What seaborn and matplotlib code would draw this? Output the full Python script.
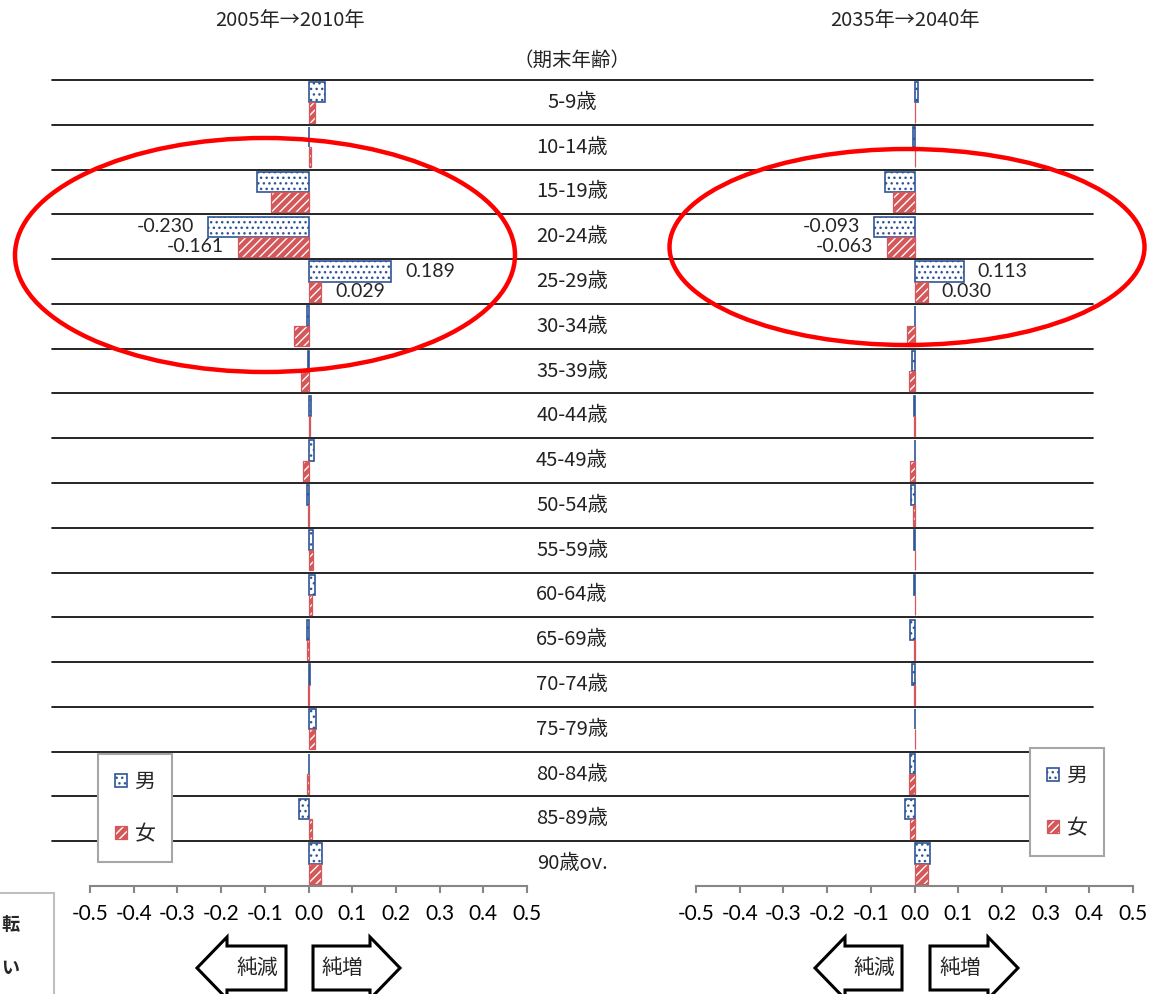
import pandas as pd
import matplotlib
matplotlib.use('Agg')
import matplotlib.pyplot as plt
import matplotlib.patches as mpatches
import matplotlib.transforms as mtransforms
from matplotlib.colors import to_rgba
from matplotlib.lines import Line2D
import seaborn as sns

# data
ages = ['5-9歳', '10-14歳', '15-19歳', '20-24歳', '25-29歳', '30-34歳',
        '35-39歳', '40-44歳', '45-49歳', '50-54歳', '55-59歳', '60-64歳',
        '65-69歳', '70-74歳', '75-79歳', '80-84歳', '85-89歳', '90歳ov.']
male_0510 = [0.038, 0.002, -0.118, -0.230, 0.189, -0.003, -0.002, 0.006, 0.013,
             -0.003, 0.011, 0.015, -0.003, 0.003, 0.017, 0.002, -0.021, 0.030]
female_0510 = [0.015, 0.005, -0.086, -0.161, 0.029, -0.033, -0.017, 0.004, -0.013,
               -0.001, 0.011, 0.009, -0.003, -0.001, 0.015, -0.004, 0.009, 0.028]
male_3540 = [0.009, -0.004, -0.067, -0.093, 0.113, 0.002, -0.006, -0.002, 0.002,
             -0.009, -0.002, -0.002, -0.010, -0.006, 0.001, -0.010, -0.021, 0.035]
female_3540 = [0.001, 0.001, -0.049, -0.063, 0.030, -0.017, -0.013, -0.001, -0.011,
               -0.003, 0.001, 0.000, -0.002, -0.002, 0.001, -0.012, -0.011, 0.030]
periods = ['2005年→2010年', '2035年→2040年']
sexes = ['男', '女']
xticks = [-0.5, -0.4, -0.3, -0.2, -0.1, 0.0, 0.1, 0.2, 0.3, 0.4, 0.5]
labelled_rows = [3, 4]

sns.set_theme(style='white')
plt.rcParams['font.family'] = ['Noto Sans CJK JP', 'DejaVu Sans']
num_font = ['Lato', 'DejaVu Sans']

W, H = 1157, 994
fig = plt.figure(figsize=(W / 100, H / 100), dpi=100)
fig.patch.set_facecolor('white')


def fx(px):
    return px / W


def fy(py):
    return 1 - py / H


blue = '#2F5597'
red = '#D4575A'
gray = '#868686'


def style_male(p):
    p.set_facecolor('white')
    p.set_edgecolor(blue)
    p.set_linewidth(1.2)
    p.set_hatch('...')


def style_female(p):
    # red fill with thin white diagonal stripes
    p.set_facecolor(red)
    p.set_edgecolor(red)
    p.set_linewidth(0.9)
    p.set_hatch('////')
    p._hatch_color = to_rgba('white')


panels = [
    (90, male_0510, female_0510, periods[0], 290, (135, 808), (265, 255, 500, 234),
     (197, 227, 286), (313, 370, 400)),
    (696, male_3540, female_3540, periods[1], 905, (1067, 802), (907, 247, 475, 196),
     (815, 845, 902), (930, 988, 1018)),
]

axes = []
for (left, male, female, title, title_x, leg_c, ell, dec_arr, inc_arr) in panels:
    ax = fig.add_axes([fx(left), fy(886), 437 / W, 806 / H])
    ax.patch.set_visible(False)
    df = pd.DataFrame({'age': ages * 2,
                       'sex': ['男'] * len(ages) + ['女'] * len(ages),
                       'value': male + female})
    sns.barplot(data=df, x='value', y='age', hue='sex', order=ages, hue_order=sexes,
                orient='h', width=0.9, gap=0, dodge=True, palette=[blue, red],
                errorbar=None, legend=False, ax=ax)

    for bar in ax.containers[0]:
        style_male(bar)
    for bar in ax.containers[1]:
        style_female(bar)

    ax.set_xlim(-0.5, 0.5)
    ax.set_ylim(len(ages) - 0.5, -0.5)
    ax.set_xticks(xticks)
    ax.set_xticklabels([f'{t:.1f}' for t in xticks], fontfamily=num_font)
    ax.set_yticks([])
    ax.set_xlabel('')
    ax.set_ylabel('')
    for s in ['top', 'right', 'left']:
        ax.spines[s].set_visible(False)
    ax.spines['bottom'].set_color(gray)
    ax.spines['bottom'].set_linewidth(1.5)
    ax.tick_params(axis='x', bottom=True, direction='out', length=5, width=1.5,
                   color=gray, pad=8, labelsize=15, labelcolor='black')

    # value labels for the 20-29 rows
    for i in labelled_rows:
        for val, off in ((male[i], -0.225), (female[i], 0.225)):
            ax.annotate(f'{val:.3f}', xy=(val, i + off),
                        xytext=(10 if val > 0 else -10, 0), textcoords='offset points',
                        ha='left' if val > 0 else 'right', va='center',
                        fontsize=14, fontfamily=num_font)

    h_male = mpatches.Patch()
    style_male(h_male)
    h_female = mpatches.Patch()
    style_female(h_female)
    leg = ax.legend([h_male, h_female], sexes, loc='center',
                    bbox_to_anchor=(fx(leg_c[0]), fy(leg_c[1])),
                    bbox_transform=fig.transFigure, fontsize=15, frameon=True,
                    fancybox=False, framealpha=1, handlelength=0.6, handleheight=0.6,
                    handletextpad=0.35, labelspacing=1.45, borderpad=0.8)
    leg.get_frame().set_edgecolor('#A6A6A6')
    leg.get_frame().set_linewidth(1.5)
    leg.set_zorder(10)
    for hp in leg.get_patches():
        hp._hatch_color = h_male._hatch_color if hp.get_facecolor()[0] == 1 else to_rgba('white')

    fig.text(fx(title_x), fy(20), title, ha='center', va='center', fontsize=14.5)

    # red ellipse round the 15-29 rows
    ex, ey, ew, eh = ell
    fig.add_artist(mpatches.Ellipse((fx(ex), fy(ey)), ew / W, eh / H,
                                    transform=fig.transFigure, fill=False,
                                    edgecolor='#FF0000', lw=3.2, zorder=20))

    # block arrows under the axis
    cy = 968
    tip, hb, end = dec_arr
    pts = [(tip, cy), (hb, cy - 31), (hb, cy - 22), (end, cy - 22), (end, cy + 22),
           (hb, cy + 22), (hb, cy + 31)]
    fig.add_artist(mpatches.Polygon([(fx(a), fy(b)) for a, b in pts], closed=True,
                                    transform=fig.transFigure, facecolor='white',
                                    edgecolor='black', lw=2.2, zorder=5))
    fig.text(fx((hb + end) / 2 + 1), fy(cy), '純減', ha='center', va='center',
             fontsize=15, zorder=6)
    start, hb, tip = inc_arr
    pts = [(tip, cy), (hb, cy - 31), (hb, cy - 22), (start, cy - 22), (start, cy + 22),
           (hb, cy + 22), (hb, cy + 31)]
    fig.add_artist(mpatches.Polygon([(fx(a), fy(b)) for a, b in pts], closed=True,
                                    transform=fig.transFigure, facecolor='white',
                                    edgecolor='black', lw=2.2, zorder=5))
    fig.text(fx((start + hb) / 2 + 1), fy(cy), '純増', ha='center', va='center',
             fontsize=15, zorder=6)
    axes.append(ax)

ax0 = axes[0]
trans = mtransforms.blended_transform_factory(fig.transFigure, ax0.transData)

# row separators running across both panels and the label column
for k in range(len(ages)):
    fig.add_artist(Line2D([fx(52), fx(1093)], [k - 0.5, k - 0.5], transform=trans,
                          color='black', lw=1.2, zorder=-1))

# age labels in the middle column
for i, lab in enumerate(ages):
    ax0.text(fx(572), i, lab, transform=trans, ha='center', va='center',
             fontsize=14.5, color='#222222', clip_on=False)
fig.text(fx(572), fy(60), '（期末年齢）', ha='center', va='center', fontsize=14,
         color='#222222')

# text box cut by the left edge
fig.add_artist(mpatches.Rectangle((fx(-20), fy(1010)), 74 / W, 117 / H,
                                  transform=fig.transFigure, facecolor='white',
                                  edgecolor='#BFBFBF', lw=1.5))
fig.text(fx(19), fy(925), '転', ha='right', va='center', fontsize=13, fontweight='bold')
fig.text(fx(19), fy(968), 'い', ha='right', va='center', fontsize=13, fontweight='bold')

fig.savefig('out.png', dpi=100)
